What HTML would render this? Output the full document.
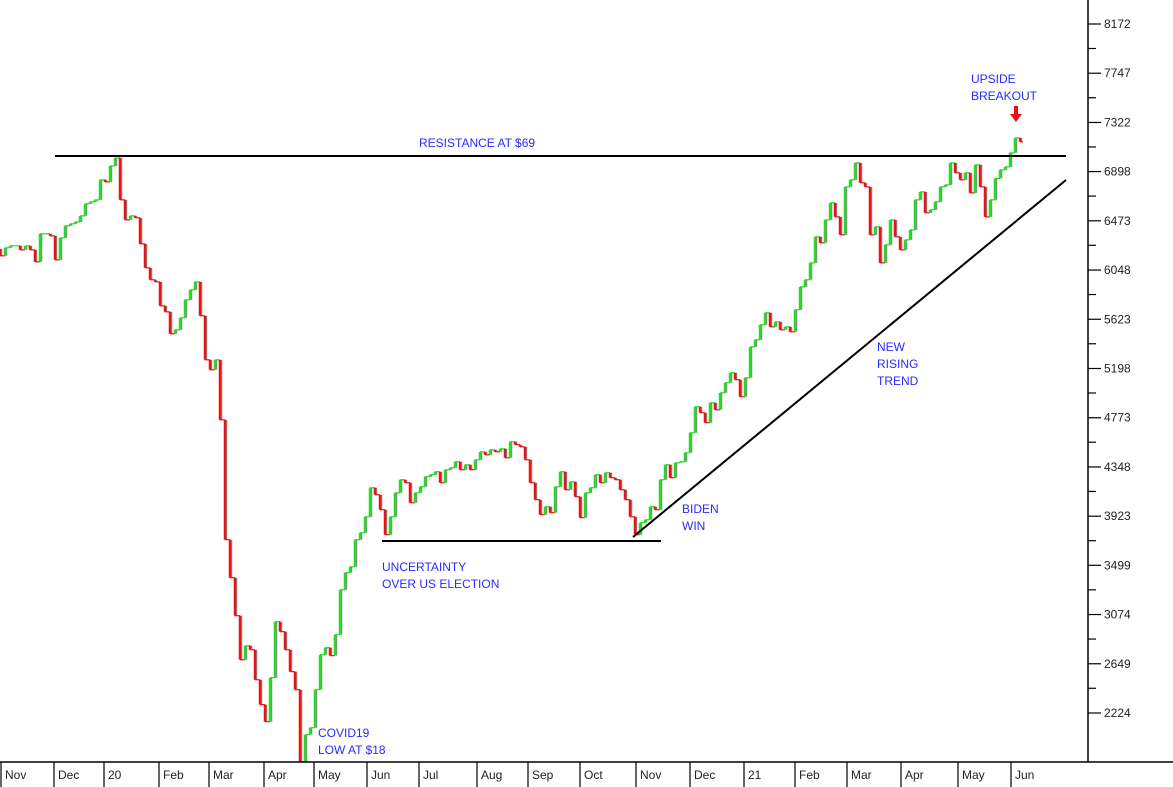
<!DOCTYPE html>
<html><head><meta charset="utf-8"><style>
html,body{margin:0;padding:0;background:#fff;}
svg{display:block;font-family:"Liberation Sans",sans-serif;}
.lbl{fill:#2a2aff;font-size:12px;}
.ax{fill:#222;font-size:12px;}
</style></head><body>
<svg id="chart" width="1173" height="787" viewBox="0 0 1173 787">
<rect x="0" y="0" width="1173" height="787" fill="#fff"/>
<g id="bars"></g>
<g id="axes"></g>
<g id="ann"></g>
</svg>
<script>
const prices = [6171,6240,6257,6257,6222,6257,6222,6119,6361,6361,6343,6136,6326,6430,6447,6464,6516,6620,6637,6654,6827,6809,6947,7016,6654,6481,6516,6499,6274,6067,5964,5946,5739,5687,5498,5532,5636,5791,5877,5946,5653,5273,5187,5273,4755,3720,3392,3064,2684,2805,2770,2511,2296,2149,2529,3012,2926,2770,2581,2425,1804,2037,2097,2425,2727,2788,2719,2900,3288,3435,3487,3720,3780,3918,4169,4108,3979,3763,3918,4125,4238,4212,4039,4125,4177,4264,4281,4307,4212,4324,4341,4393,4324,4367,4324,4410,4479,4453,4496,4479,4505,4427,4566,4540,4522,4410,4212,4065,3936,4005,3953,4177,4307,4151,4220,4091,3910,4125,4169,4281,4212,4298,4255,4238,4151,4065,3918,3763,3867,
3892,4005,3979,4238,4367,4255,4384,4393,4471,4643,4868,4816,4730,4902,4842,4988,5075,5161,5101,4954,5118,5385,5446,5575,5679,5558,5601,5532,5558,5515,5705,5903,5964,6110,6335,6283,6481,6628,6507,6352,6766,6827,6973,6801,6766,6352,6421,6110,6266,6481,6335,6222,6309,6395,6654,6723,6542,6568,6637,6766,6783,6973,6887,6827,6887,6714,6956,6766,6507,6654,6839,6913,6939,7060,7189,7155];
const yTicks = [8172,7747,7322,6898,6473,6048,5623,5198,4773,4348,3923,3499,3074,2649,2224];
const months = ["Nov","Dec","20","Feb","Mar","Apr","May","Jun","Jul","Aug","Sep","Oct","Nov","Dec","21","Feb","Mar","Apr","May","Jun"];
const monthStart = [0,53,103,158,208,263,313,366,418,476,527,579,635,689,743,794,846,900,957,1010];

const NS="http://www.w3.org/2000/svg";
function yS(p){return 24+(8172-p)*(689/5948);}
function xS(i){return i*(1020/(prices.length-1));}
function mk(tag,attrs,parent){const e=document.createElementNS(NS,tag);for(const k in attrs)e.setAttribute(k,attrs[k]);parent.appendChild(e);return e;}

const bars=document.getElementById('bars');
for(let i=0;i<prices.length;i++){
  const prev=i>0?prices[i-1]:prices[i]+60;
  const up=prices[i]>=prev;
  const col=up?"#22dd22":"#ee1111";
  const x=xS(i), x2=i<prices.length-1?xS(i+1):x+3;
  const s=mk('line',{x1:x+1.5,y1:yS(prev),x2:x+1.5,y2:yS(prices[i]),stroke:"#888","stroke-width":1.5},bars);
  
  
  const v=mk('line',{x1:x,y1:yS(prev),x2:x,y2:yS(prices[i]),stroke:col,"stroke-width":2.5},bars);
  
  
  const h=mk('line',{x1:x,y1:yS(prices[i]),x2:x2,y2:yS(prices[i]),stroke:col,"stroke-width":1.2},bars);
  
  
}

const axes=document.getElementById('axes');
mk('line',{x1:1088,y1:0,x2:1088,y2:762,stroke:"#000","stroke-width":1.5},axes);
mk('line',{x1:0,y1:762,x2:1173,y2:762,stroke:"#000","stroke-width":1.5},axes);
yTicks.forEach((t,i)=>{
  const y=yS(t);
  mk('line',{x1:1088,y1:y,x2:1101,y2:y,stroke:"#000","stroke-width":1.2},axes);
  if(i<yTicks.length-1) mk('line',{x1:1088,y1:y+24.5,x2:1096,y2:y+24.5,stroke:"#000","stroke-width":1.2},axes);
  const tx=mk('text',{x:1104,y:y+4,class:"ax"},axes);
  tx.textContent=t;
  
  
});
months.forEach((m,i)=>{
  const x=monthStart[i];
  mk('line',{x1:x+1,y1:762,x2:x+1,y2:787,stroke:"#000","stroke-width":1.2},axes);
  const tx=mk('text',{x:x+5,y:779,class:"ax"},axes);
  tx.textContent=m;
  
  
});
</script>
<script>
const ann=document.getElementById('ann');
const NS2="http://www.w3.org/2000/svg";
function L(x1,y1,x2,y2,name){const e=document.createElementNS(NS2,'line');e.setAttribute('x1',x1);e.setAttribute('y1',y1);e.setAttribute('x2',x2);e.setAttribute('y2',y2);e.setAttribute('stroke','#000');e.setAttribute('stroke-width','2');


ann.appendChild(e);}
L(55,156,1066,156,'resistance-line');
L(382,541,661,541,'support-line');
L(633,537,1066,180,'rising-trend-line');
function T(x,y,s,name){const e=document.createElementNS(NS2,'text');e.setAttribute('x',x);e.setAttribute('y',y);e.setAttribute('class','lbl');e.textContent=s;


ann.appendChild(e);}
T(419,147,'RESISTANCE AT $69','resistance-label');
T(971,83,'UPSIDE','breakout-label');
T(971,100,'BREAKOUT','breakout-label');
T(877,351,'NEW','trend-label');
T(877,368,'RISING','trend-label');
T(877,385,'TREND','trend-label');
T(682,513,'BIDEN','biden-label');
T(682,530,'WIN','biden-label');
T(382,571,'UNCERTAINTY','uncertainty-label');
T(382,588,'OVER US ELECTION','uncertainty-label');
T(318,737,'COVID19','covid-label');
T(318,754,'LOW AT $18','covid-label');
const a=document.createElementNS(NS2,'path');
a.setAttribute('d','M1014 106 h4 v8 h4 l-6 8 l-6 -8 h4 z');
a.setAttribute('fill','#ee1111');


ann.appendChild(a);
</script>
</body></html>
